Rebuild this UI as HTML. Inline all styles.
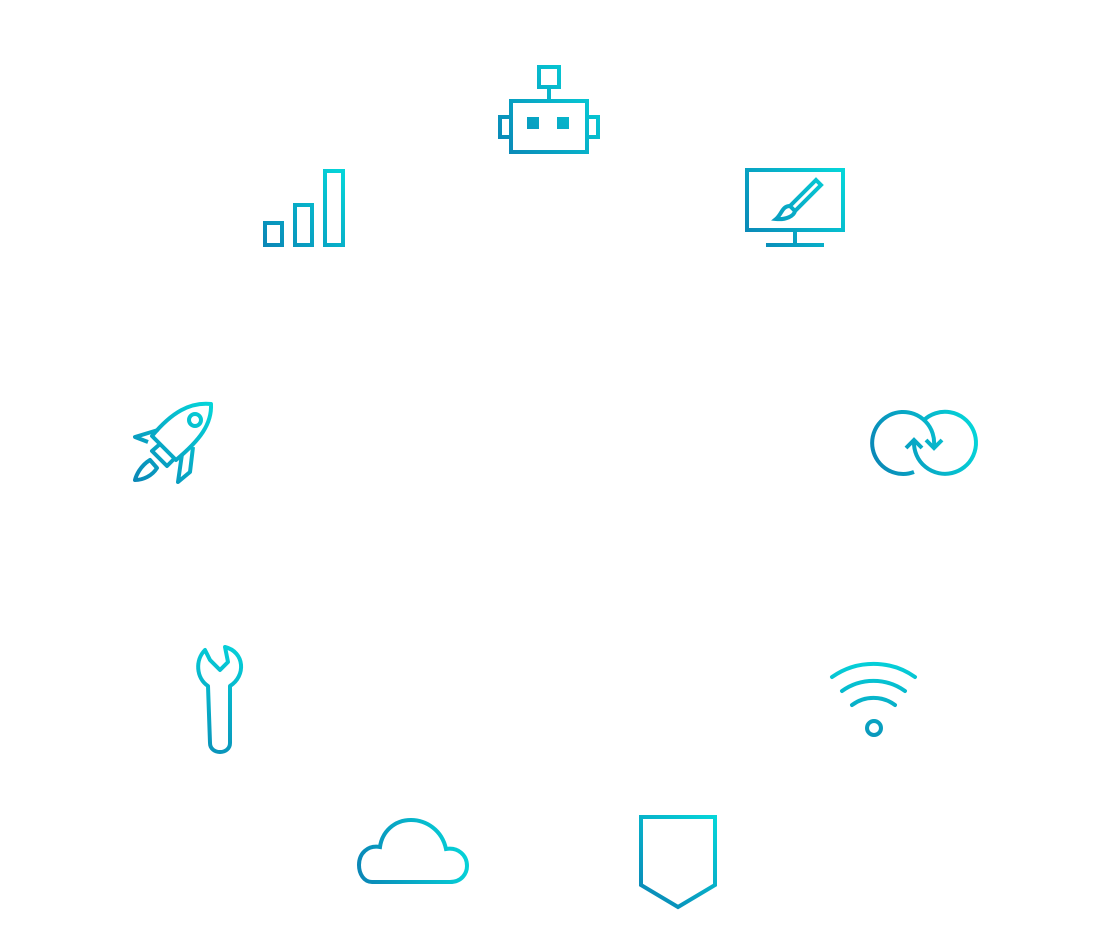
<!DOCTYPE html>
<html><head><meta charset="utf-8"><style>html,body{margin:0;padding:0;background:#fff}svg{display:block}</style></head>
<body>
<svg width="1100" height="948" viewBox="0 0 1100 948" xmlns="http://www.w3.org/2000/svg">
<defs>
<linearGradient id="gr" gradientUnits="userSpaceOnUse" x1="498" y1="150" x2="600" y2="70"><stop offset="0" stop-color="#0a86b6"/><stop offset="1" stop-color="#05d7da"/></linearGradient>
<linearGradient id="gm" gradientUnits="userSpaceOnUse" x1="745" y1="240" x2="845" y2="170"><stop offset="0" stop-color="#0a86b6"/><stop offset="1" stop-color="#05d7da"/></linearGradient>
<linearGradient id="gb" gradientUnits="userSpaceOnUse" x1="262" y1="245" x2="346" y2="170"><stop offset="0" stop-color="#0a86b6"/><stop offset="1" stop-color="#05d7da"/></linearGradient>
<linearGradient id="gk" gradientUnits="userSpaceOnUse" x1="132" y1="482" x2="213" y2="402"><stop offset="0" stop-color="#0a86b6"/><stop offset="1" stop-color="#05d7da"/></linearGradient>
<linearGradient id="gs" gradientUnits="userSpaceOnUse" x1="870" y1="460" x2="978" y2="425"><stop offset="0" stop-color="#0a86b6"/><stop offset="1" stop-color="#05d7da"/></linearGradient>
<linearGradient id="gw" gradientUnits="userSpaceOnUse" x1="873" y1="738" x2="873" y2="660"><stop offset="0" stop-color="#0a96bb"/><stop offset="1" stop-color="#05d2da"/></linearGradient>
<linearGradient id="gx" gradientUnits="userSpaceOnUse" x1="200" y1="755" x2="242" y2="645"><stop offset="0" stop-color="#0a90b8"/><stop offset="1" stop-color="#05d2da"/></linearGradient>
<linearGradient id="gc" gradientUnits="userSpaceOnUse" x1="357" y1="870" x2="470" y2="840"><stop offset="0" stop-color="#0a86b6"/><stop offset="1" stop-color="#05d7da"/></linearGradient>
<linearGradient id="gh" gradientUnits="userSpaceOnUse" x1="640" y1="900" x2="716" y2="815"><stop offset="0" stop-color="#0a86b6"/><stop offset="1" stop-color="#05d7da"/></linearGradient>
</defs>
<g fill="none" stroke-width="4">
<!-- robot -->
<g stroke="url(#gr)">
<rect x="539" y="67" width="20" height="20"/>
<line x1="549" y1="87" x2="549" y2="101"/>
<rect x="511" y="101" width="76" height="51"/>
<rect x="500" y="117" width="11" height="20"/>
<rect x="587" y="117" width="11" height="20"/>
<rect x="527" y="117" width="12" height="12" fill="url(#gr)" stroke="none"/>
<rect x="557" y="117" width="12" height="12" fill="url(#gr)" stroke="none"/>
</g>
<!-- monitor -->
<g stroke="url(#gm)">
<rect x="747" y="170" width="96" height="60"/>
<line x1="795" y1="230" x2="795" y2="245"/>
<line x1="766" y1="245" x2="824" y2="245"/>
<path d="M816,180 L821,185 L795,211 L790,206 Z"/>
<path d="M790,206 C782,206 782,214 776,219 C786,220 794,216 795,211"/>
</g>
<!-- bars -->
<g stroke="url(#gb)">
<rect x="265" y="223" width="17" height="22"/>
<rect x="295" y="205" width="17" height="40"/>
<rect x="325" y="171" width="18" height="74"/>
</g>
<!-- rocket -->
<g stroke="url(#gk)" stroke-linejoin="round">
<path d="M211,404 C190,402 172,412 152,436 L176,460 C200,440 212,424 211,404 Z"/>
<circle cx="195" cy="420" r="6"/>
<path d="M158,430 L135,437 L148,442"/>
<path d="M182,454 L178,482 L190,472 L193,447"/>
<path d="M160,444 L152,451 L167,466 L175,458"/>
<path d="M150,460 C140,466 136,476 135,480 C143,480 152,476 157,468 Z"/>
</g>
<!-- sync -->
<g stroke="url(#gs)">
<path d="M934,446 A31,31 0 1 0 914,472"/>
<path d="M914,442 A31,31 0 1 0 924,420"/>
<path d="M926,440 L934,448 L942,440"/>
<path d="M906,448 L914,440 L922,448"/>
</g>
<!-- wifi -->
<g stroke="url(#gw)" stroke-linecap="round">
<path d="M832,677 A72,72 0 0 1 915,677"/>
<path d="M842,691 A54,54 0 0 1 905,691"/>
<path d="M852,705 A36,36 0 0 1 895,705"/>
<circle cx="874" cy="728" r="7"/>
</g>
<!-- wrench -->
<g stroke="url(#gx)" stroke-linejoin="round">
<path d="M205,650 C195,660 196,678 208,686 L210,743 C210,755 230,755 230,743 L230,686 C246,676 245,652 225,647 L228,662 L220,670 L210,660 Z"/>
</g>
<!-- cloud -->
<path stroke="url(#gc)" d="M372,882 L450,882 C462,882 467,873 467,866 C467,855 458,847 446,849 C442,830 426,820 411,820 C394,820 382,832 380,847 C368,845 359,853 359,865 C359,874 364,882 372,882 Z"/>
<!-- shield -->
<path stroke="url(#gh)" d="M641,817 L715,817 L715,885 L678,907 L641,885 Z"/>
</g>
</svg>
</body></html>
